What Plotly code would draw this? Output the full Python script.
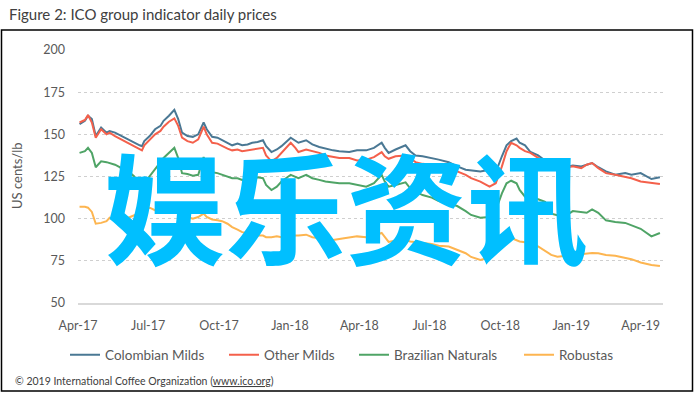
import plotly.graph_objects as go

W, H = 695, 394
L, R, T, B = 78, 32, 50, 91
PW, PH = W - L - R, H - T - B


def px(x):
    return (x - L) / PW


def py(y):
    return (H - B - y) / PH


dates = [
    "2017-04-03", "2017-04-10", "2017-04-14", "2017-04-19", "2017-04-24",
    "2017-05-01", "2017-05-08", "2017-05-12", "2017-05-19", "2017-05-25", "2017-05-31",
    "2017-06-07", "2017-06-13", "2017-06-20", "2017-06-23", "2017-06-26",
    "2017-07-03", "2017-07-10", "2017-07-17", "2017-07-21", "2017-07-28",
    "2017-08-04", "2017-08-09", "2017-08-14", "2017-08-21", "2017-08-28",
    "2017-09-04", "2017-09-11", "2017-09-15", "2017-09-22", "2017-09-29",
    "2017-10-05", "2017-10-12", "2017-10-18", "2017-10-25", "2017-10-31",
    "2017-11-07", "2017-11-13", "2017-11-20", "2017-11-27",
    "2017-12-01", "2017-12-08", "2017-12-15", "2017-12-21",
    "2018-01-02", "2018-01-08", "2018-01-12", "2018-01-22", "2018-01-30",
    "2018-02-08", "2018-02-16", "2018-02-26", "2018-03-06", "2018-03-19", "2018-03-29",
    "2018-04-10", "2018-04-20", "2018-04-30", "2018-05-04", "2018-05-09", "2018-05-18",
    "2018-05-31", "2018-06-06", "2018-06-13", "2018-06-22", "2018-07-04", "2018-07-13",
    "2018-07-26", "2018-08-06", "2018-08-17", "2018-08-24", "2018-09-05", "2018-09-17",
    "2018-09-25", "2018-10-03", "2018-10-09", "2018-10-15", "2018-10-22", "2018-10-26",
    "2018-11-02", "2018-11-09", "2018-11-19", "2018-11-28", "2018-12-06", "2018-12-14",
    "2018-12-24", "2019-01-03", "2019-01-14", "2019-01-21", "2019-01-28", "2019-02-05",
    "2019-02-15", "2019-02-27", "2019-03-12", "2019-03-20", "2019-04-01", "2019-04-15",
    "2019-04-26",
]

colombian_milds = [
    156, 158, 161, 159, 149,
    154, 151, 152, 151, 149.5, 148,
    146.5, 145, 143.5, 143, 146, 149,
    153, 155, 158, 161, 164.5,
    159, 151, 149, 148.5, 150,
    157, 153, 148.5, 148, 146.5,
    145, 143.5, 144.5, 143.5, 144,
    145, 145.5, 146.5, 143,
    139.5, 141, 143, 148, 146,
    145, 146.5, 144, 142.5, 141.5, 140.5, 140, 139.5, 140.5, 140.5,
    142, 145, 142, 139, 141, 143.5, 140, 137.5, 137, 136, 135,
    133.5, 131, 129, 128.5, 128, 129, 127.5, 137, 143.5, 146,
    147.5, 145, 143.5, 139.5, 137.5, 134.5, 132, 131, 130.5, 131.5, 131, 132,
    133, 130.5, 128, 126, 127, 126, 127, 123.5, 124.5,
]

other_milds = [
    157, 158.5, 161.5, 157, 148,
    153, 150, 151, 149, 147.5, 146,
    144.5, 142.5, 141, 140.5, 143.5, 146.5,
    150, 152, 154.5, 157.5, 159.5,
    155, 148, 146, 145, 147,
    154.5, 150, 145, 144.5, 143,
    141.5, 140.5, 141, 140, 140.5,
    141, 141.5, 142, 137.5,
    134, 136, 139, 145, 142,
    139.5, 141, 140, 139, 137.5, 136.5, 136, 136, 134.5, 135,
    136.5, 139.5, 137, 135.5, 137, 137.5, 135.5, 133.5, 132.5, 132, 131,
    130, 128, 126, 124, 122, 119, 121, 131, 140, 145,
    143.5, 142, 140, 139, 136, 134, 131.5, 130.5, 130, 131, 130, 132,
    133, 130, 127, 126, 124.5, 124, 122, 121, 120.5,
]

brazilian_naturals = [
    139, 140, 142, 139, 130.5,
    134, 133.5, 133, 132, 130.5, 128.5,
    127.5, 125, 120, 117.5, 121, 125,
    129, 133.5, 136, 139, 142,
    136, 127, 126.5, 125.5, 126,
    136.5, 131, 127.5, 127, 126,
    125, 124, 124, 123, 123.5,
    123, 124.5, 124, 120,
    117, 119, 122, 126, 125,
    124, 126, 124, 123, 122, 121.5, 121, 121, 120, 119,
    121, 126, 122, 119, 120, 121.5, 118, 116, 114, 112.5, 110.5,
    109, 107.5, 104.5, 102.2, 100.5, 101, 105, 115, 121, 122.5,
    121, 117, 113, 112.5, 111.5, 110, 103, 102, 101.5, 104.5, 104, 103.5,
    105.5, 103.5, 99, 98, 97.5, 96, 94, 89.5, 91.5,
]

robustas = [
    107, 107, 106.5, 104, 97,
    97.5, 98.5, 100.5, 99, 98, 99.5,
    101, 102, 104, 105, 105.5, 106.5,
    105, 104, 105, 106, 107,
    106, 102, 101, 100, 101,
    103, 101, 99.5, 99, 98.5,
    97, 95, 93.5, 92, 91.5,
    91.5, 90, 90, 89,
    89, 89.5, 89, 89, 90,
    90, 90.5, 89, 88.5, 88, 87.3, 88, 89, 89.5, 89,
    90, 91.5, 89, 86.2, 87, 87.3, 86.5, 86, 85.6, 85, 84,
    83.5, 81.5, 79.5, 77.3, 75.5, 77, 79.5, 85.6, 88, 88.5,
    87, 86.5, 86, 84.5, 83.5, 81, 78.5, 77.5, 78, 78.5, 79, 79.5,
    79.6, 79.5, 78.5, 78, 77, 76, 74, 72.5, 72,
]

series_names = ["Colombian Milds", "Other Milds", "Brazilian Naturals", "Robustas"]
series_colors = ["#4A7894", "#F4604B", "#4FA466", "#FDB550"]

tick_dates = ["2017-04-01", "2017-07-01", "2017-10-01", "2018-01-01", "2018-04-01",
              "2018-07-01", "2018-10-01", "2019-01-01", "2019-04-01"]
tick_labels = ["Apr-17", "Jul-17", "Oct-17", "Jan-18", "Apr-18",
               "Jul-18", "Oct-18", "Jan-19", "Apr-19"]

FONT = "Lato"
GREY = "#595959"

fig = go.Figure()
legend_ids = ["legend", "legend2", "legend3", "legend4"]
legend_x = [70, 229, 359, 524]
for name, vals, col, lid in zip(series_names,
                                [colombian_milds, other_milds, brazilian_naturals, robustas],
                                series_colors, legend_ids):
    fig.add_trace(go.Scatter(x=dates, y=vals, mode="lines", name=name,
                             line=dict(color=col, width=2), legend=lid,
                             hoverinfo="skip"))

legend_common = dict(orientation="h", yanchor="middle", xanchor="left",
                     bgcolor="rgba(0,0,0,0)", borderwidth=0, itemwidth=30,
                     font=dict(family=FONT, size=13.5, color=GREY))
layout_legends = {}
for lid, lx in zip(legend_ids, legend_x):
    layout_legends[lid] = dict(x=px(lx - 5), y=py(355), **legend_common)

fig.update_layout(
    width=W, height=H,
    margin=dict(l=L, r=R, t=T, b=B),
    paper_bgcolor="white", plot_bgcolor="white",
    showlegend=True,
    font=dict(family=FONT, color=GREY),
    **layout_legends,
)

fig.update_xaxes(
    type="date", range=["2017-04-01", "2019-04-30"],
    tickvals=tick_dates, ticktext=tick_labels,
    showgrid=False, zeroline=False,
    showline=True, linecolor="#d9d9d9", linewidth=1.5,
    ticks="", ticklabelstandoff=10,
    tickfont=dict(family=FONT, size=12.5, color=GREY),
)
fig.update_yaxes(
    range=[50, 200], tick0=50, dtick=25,
    showgrid=True, gridcolor="#cfcfcf", griddash="dot", gridwidth=1,
    zeroline=False, showline=False, ticks="", ticklabelstandoff=12,
    tickfont=dict(family=FONT, size=12.5, color=GREY),
)

annotations = [
    dict(text="Figure 2: ICO group indicator daily prices", x=px(7), y=py(14),
         xref="paper", yref="paper", xanchor="left", yanchor="middle", showarrow=False,
         font=dict(family=FONT, size=15, color="#404040")),
    dict(text="US cents/lb", x=px(17), y=py(176), textangle=-90,
         xref="paper", yref="paper", xanchor="center", yanchor="middle", showarrow=False,
         font=dict(family=FONT, size=13, color=GREY)),
    dict(text="© 2019 International Coffee Organization (<u>www.ico.org</u>)",
         x=px(13), y=py(381), xref="paper", yref="paper", xanchor="left", yanchor="middle",
         showarrow=False, font=dict(family=FONT, size=10.5, color="#404040")),
    dict(text="娱乐资讯", x=px(346), y=py(202), xref="paper", yref="paper",
         xanchor="center", yanchor="middle", showarrow=False,
         font=dict(family="Noto Sans CJK SC", size=121, color="#00BFFF", weight="bold")),
]
fig.update_layout(annotations=annotations)

fig.add_shape(type="rect", xref="paper", yref="paper",
              x0=px(1.5), x1=px(692.5), y0=py(391), y1=py(30),
              line=dict(color="#000000", width=1.5), fillcolor="rgba(0,0,0,0)",
              layer="above")

fig.write_html("out.html", config={"displayModeBar": False},
               post_script="document.body.style.margin='0px';")
